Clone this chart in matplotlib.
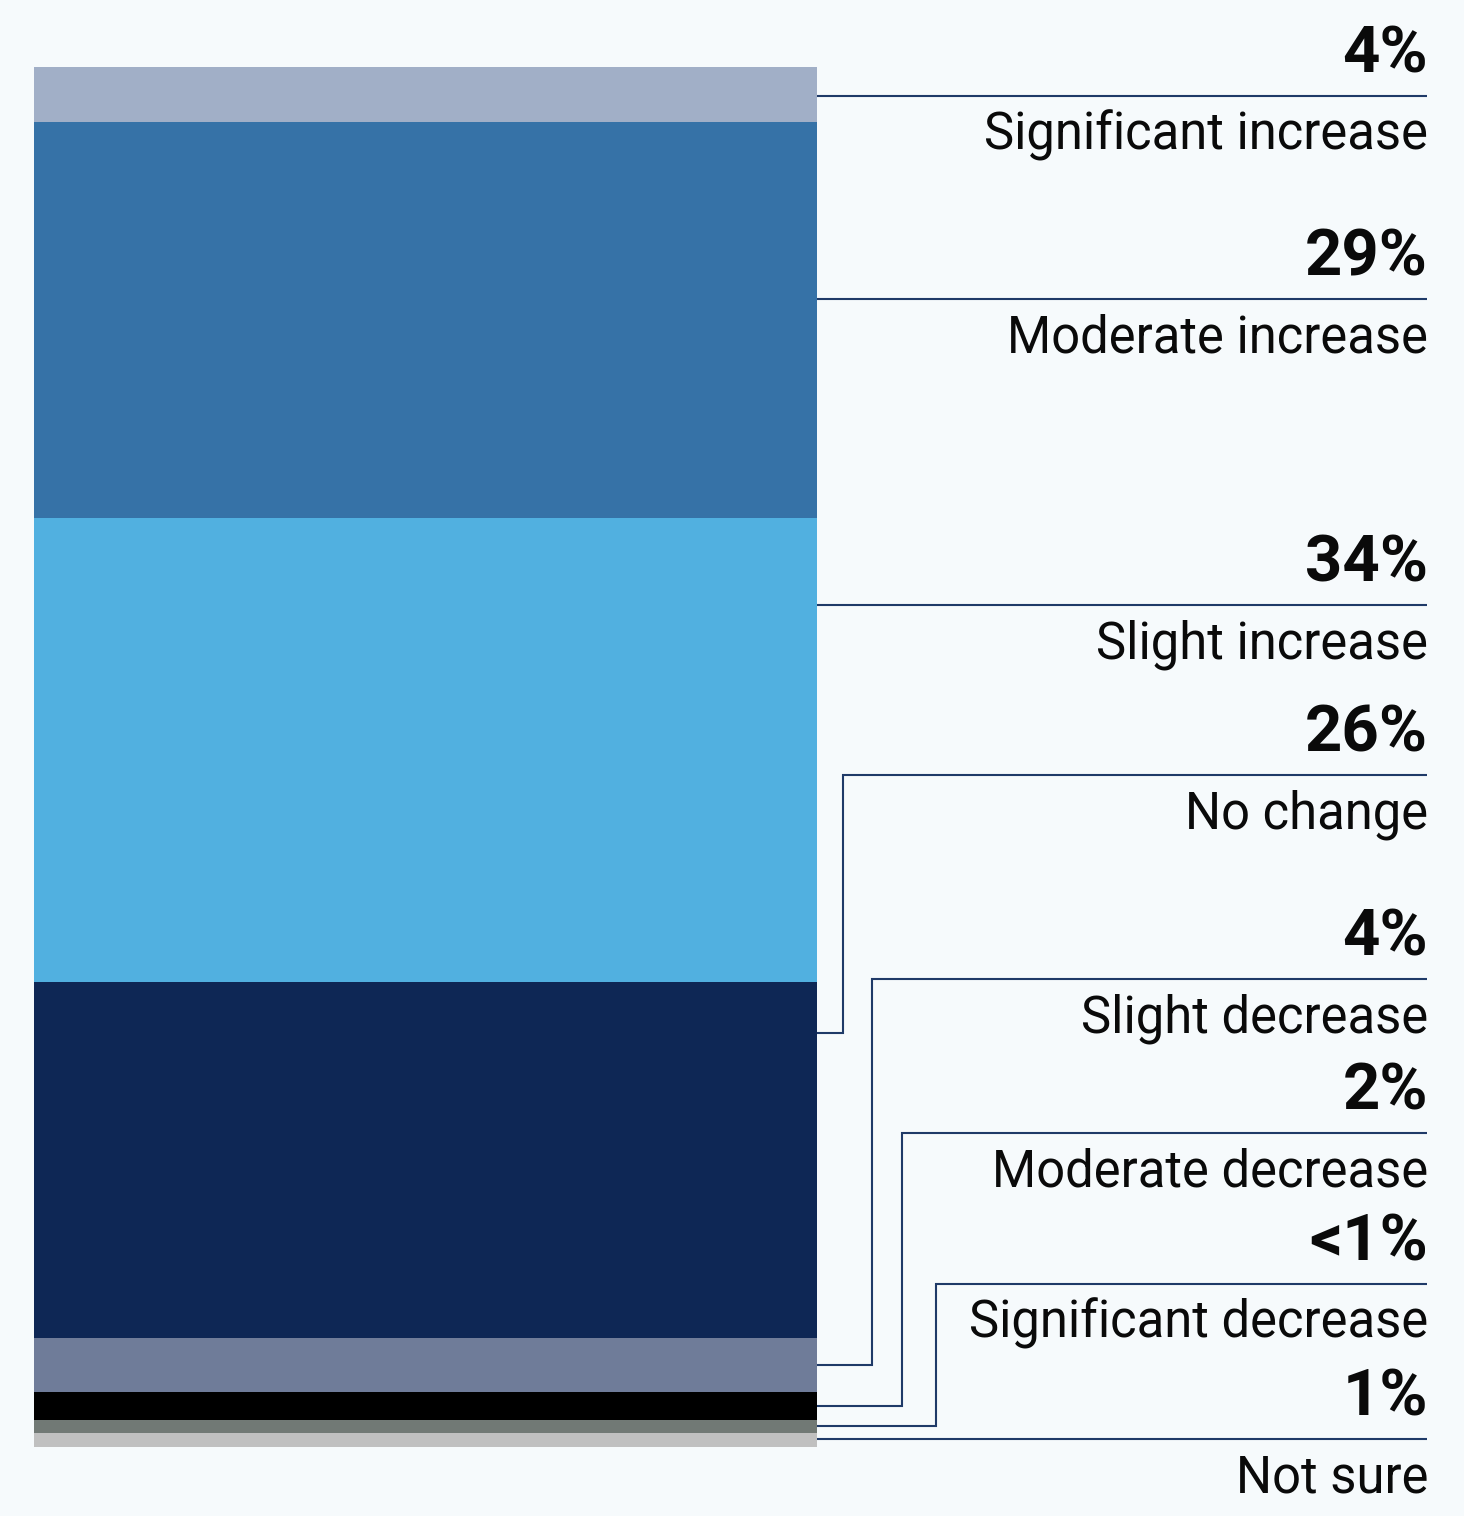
import matplotlib.pyplot as plt

# data, top to bottom of the stacked bar
categories = ["Significant increase", "Moderate increase", "Slight increase", "No change",
              "Slight decrease", "Moderate decrease", "Significant decrease", "Not sure"]
values = [4, 29, 34, 26, 4, 2, 1, 1]
value_labels = ["4%", "29%", "34%", "26%", "4%", "2%", "<1%", "1%"]
colors = ["#A1AFC7", "#3672A7", "#51B0E0", "#0E2755",
          "#6F7C99", "#000000", "#717975", "#C0C0C0"]

# layout (pixels)
W, H = 1464, 1516
bar_left, bar_right = 34, 817
bar_top = 67
px_per_pct = 13.663
text_right = 1427
line_y = [96, 299, 605, 775, 979, 1133, 1284, 1439]
elbow_x = [None, None, None, 843, 872, 902, 936, None]
line_col = "#1F3A68"
bg = "#F6FAFC"


def to_pct(p):
    return (p - bar_top) / px_per_pct


fig = plt.figure(figsize=(W / 100, H / 100), dpi=100)
fig.patch.set_facecolor(bg)
ax = fig.add_axes([0, 0, 1, 1])
ax.set_facecolor(bg)
ax.set_xlim(0, W)
ax.set_ylim(to_pct(H), to_pct(0))
ax.axis("off")

bottoms = []
acc = 0
for v in values:
    bottoms.append(acc)
    acc += v

ax.bar([bar_left] * len(values), values, bottom=bottoms, width=bar_right - bar_left,
       align="edge", color=colors, linewidth=0)

for i, cat in enumerate(categories):
    top = bottoms[i]
    bot = top + values[i]
    ly = to_pct(line_y[i])
    if top <= ly <= bot:
        ax.plot([bar_right, text_right], [ly, ly], color=line_col, lw=1.5,
                solid_capstyle="butt")
    else:
        # elbow leader for labels that sit outside their segment
        anchor = min((top + bot) / 2, top + 3.7)
        ex = elbow_x[i]
        ax.plot([text_right, ex, ex, bar_right], [ly, ly, anchor, anchor],
                color=line_col, lw=1.5, solid_joinstyle="miter", solid_capstyle="butt")
    ax.text(text_right + 1, to_pct(line_y[i] - 23), value_labels[i], ha="right", va="baseline",
            fontsize=47, fontweight="bold", family="Roboto", color="#0A0A0A")
    ax.text(text_right + 1, to_pct(line_y[i] + 54), cat, ha="right", va="baseline",
            fontsize=36.5, family="Roboto", color="#0A0A0A")

fig.savefig("out.png", dpi=100, facecolor=bg)
